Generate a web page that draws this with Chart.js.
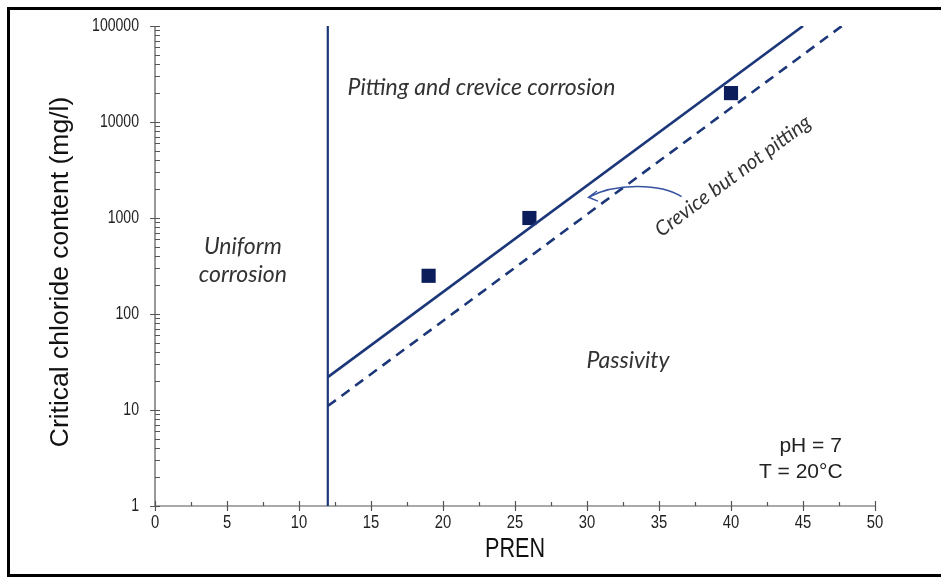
<!DOCTYPE html>
<html><head><meta charset="utf-8">
<script src="https://cdn.jsdelivr.net/npm/chart.js@4.4.1/dist/chart.umd.min.js"></script>
<style>html,body{margin:0;padding:0;background:#fff}</style>
</head><body>
<canvas id="c" width="941" height="577"></canvas>
<script>
// ---- data ----
const prenTicks = [0, 5, 10, 15, 20, 25, 30, 35, 40, 45, 50];
const chlorideTicks = [1, 10, 100, 1000, 10000, 100000];
const measuredPren = [19, 26, 40];
const measuredChloride = [250, 1000, 20000];
const pittingLinePren = [12, 45];
const pittingLineChloride = [22, 100000];
const creviceLinePren = [12, 47.7];
const creviceLineChloride = [11, 100000];
const uniformBoundaryPren = [12, 12];
const uniformBoundaryChloride = [1, 100000];
const xTitle = 'PREN';
const yTitle = 'Critical chloride content (mg/l)';
const regionPitting = 'Pitting and crevice corrosion';
const regionUniform = ['Uniform', 'corrosion'];
const regionPassivity = 'Passivity';
const regionCrevice = 'Crevice but not pitting';
const conditions = ['pH = 7', 'T = 20°C'];

const pts = (xs, ys) => xs.map((v, i) => ({x: v, y: ys[i]}));
const LINE = '#1c3779';
const MARK = '#0b1d5a';
const SANS = '"Liberation Sans", Arial, sans-serif';

const frame = {
  id: 'frame',
  beforeDraw(chart) {
    const ctx = chart.ctx;
    ctx.save();
    ctx.fillStyle = '#fff';
    ctx.fillRect(0, 0, chart.width, chart.height);
    ctx.strokeStyle = '#000';
    ctx.lineWidth = 3;
    ctx.strokeRect(8.5, 8.5, 945, 567);
    ctx.restore();
  }
};

// condensed text helper (Arial-Narrow look)
function narrowText(ctx, text, x, y, size, align, sx) {
  ctx.save();
  ctx.translate(x, y);
  ctx.scale(sx, 1);
  ctx.font = size + 'px ' + SANS;
  ctx.textAlign = align;
  ctx.textBaseline = 'middle';
  ctx.fillText(text, 0, 0);
  ctx.restore();
}

const axesTicks = {
  id: 'axesTicks',
  beforeDatasetsDraw(chart) {
    const {ctx, scales: {x, y}, chartArea: a} = chart;
    ctx.save();
    ctx.strokeStyle = '#555';
    ctx.lineWidth = 1.2;
    ctx.beginPath();
    ctx.moveTo(a.left, a.top); ctx.lineTo(a.left, a.bottom); ctx.lineTo(a.right, a.bottom);
    for (let v = 0; v <= 50; v += 2.5) {
      const px = Math.round(x.getPixelForValue(v)) + 0.5;
      const major = v % 5 === 0;
      ctx.moveTo(px, a.bottom - (major ? 5 : 4));
      ctx.lineTo(px, a.bottom + (major ? 5 : 0));
    }
    for (let d = 0; d <= 5; d++) {
      const base = Math.pow(10, d);
      const py = Math.round(y.getPixelForValue(base)) + 0.5;
      ctx.moveTo(a.left - 5, py); ctx.lineTo(a.left + 5, py);
      if (d < 5) {
        for (let m = 2; m <= 9; m++) {
          const q = Math.round(y.getPixelForValue(base * m)) + 0.5;
          ctx.moveTo(a.left, q); ctx.lineTo(a.left + 5, q);
        }
      }
    }
    ctx.stroke();
    // tick labels
    ctx.fillStyle = '#222';
    prenTicks.forEach(v => narrowText(ctx, String(v), x.getPixelForValue(v), a.bottom + 17, 18.5, 'center', 0.8));
    chlorideTicks.forEach(v => narrowText(ctx, String(v), a.left - 16, y.getPixelForValue(v), 18.5, 'right', 0.76));
    // axis titles
    ctx.fillStyle = '#111';
    narrowText(ctx, xTitle, (a.left + a.right) / 2, a.bottom + 44, 27, 'center', 0.8);
    ctx.save();
    ctx.translate(61, (a.top + a.bottom) / 2 + 6);
    ctx.rotate(-Math.PI / 2);
    ctx.font = '26.5px ' + SANS;
    ctx.textAlign = 'center';
    ctx.textBaseline = 'middle';
    ctx.fillText(yTitle, 0, 0);
    ctx.restore();
    ctx.restore();
  }
};

const annot = {
  id: 'annot',
  afterDatasetsDraw(chart) {
    const {ctx, scales: {x, y}} = chart;
    const px = v => x.getPixelForValue(v), py = v => y.getPixelForValue(v);
    ctx.save();
    ctx.fillStyle = '#333';
    ctx.textAlign = 'center';
    ctx.textBaseline = 'middle';
    ctx.font = 'italic 23px Lato';
    ctx.fillText(regionPitting, px(22.67), py(22600));
    ctx.fillText(regionUniform[0], px(6.1), py(499));
    ctx.fillText(regionUniform[1], px(6.1), py(255));
    ctx.fillText(regionPassivity, px(32.85), py(32.4));
    ctx.save();
    ctx.translate(px(40.14), py(2738));
    ctx.rotate(-36.6 * Math.PI / 180);
    ctx.font = 'italic 20.5px Lato';
    ctx.fillText(regionCrevice, 0, 0);
    ctx.restore();
    // arrow
    ctx.strokeStyle = '#3553a0';
    ctx.lineWidth = 1.4;
    ctx.beginPath();
    ctx.moveTo(px(36.57), py(1667));
    ctx.bezierCurveTo(px(35.07), py(2315), px(31.94), py(2315), px(30.10), py(1644));
    ctx.moveTo(px(30.69), py(1910));
    ctx.lineTo(px(30.10), py(1644));
    ctx.lineTo(px(30.76), py(1502));
    ctx.stroke();
    // conditions
    ctx.fillStyle = '#222';
    ctx.textAlign = 'right';
    ctx.font = '21px ' + SANS;
    ctx.fillText(conditions[0], px(47.7), py(4.22));
    ctx.fillText(conditions[1], px(47.75), py(2.26));
    ctx.restore();
  }
};

new Chart(document.getElementById('c'), {
  type: 'scatter',
  data: {
    datasets: [
      {data: pts(uniformBoundaryPren, uniformBoundaryChloride), showLine: true, borderColor: LINE, borderWidth: 2.2, pointRadius: 0},
      {data: pts(pittingLinePren, pittingLineChloride), showLine: true, borderColor: LINE, borderWidth: 2.6, pointRadius: 0},
      {data: pts(creviceLinePren, creviceLineChloride), showLine: true, borderColor: LINE, borderWidth: 2.6, borderDash: [10, 7], pointRadius: 0},
      {data: pts(measuredPren, measuredChloride), showLine: false, pointStyle: 'rect', pointRadius: 10, backgroundColor: MARK, borderColor: MARK, borderWidth: 0}
    ]
  },
  options: {
    responsive: false,
    animation: false,
    devicePixelRatio: 1,
    layout: {padding: {left: 10, top: 26, right: 66, bottom: 5}},
    plugins: {legend: {display: false}, tooltip: {enabled: false}},
    scales: {
      x: {
        type: 'linear', min: 0, max: 50,
        afterBuildTicks: s => { s.ticks = prenTicks.map(v => ({value: v})); },
        afterFit: s => { s.height = 66; },
        grid: {display: false, drawTicks: false},
        border: {display: false},
        ticks: {display: false},
        title: {display: false, text: xTitle}
      },
      y: {
        type: 'logarithmic', min: 1, max: 100000,
        afterBuildTicks: s => { s.ticks = chlorideTicks.map(v => ({value: v})); },
        afterFit: s => { s.width = 145; },
        grid: {display: false, drawTicks: false},
        border: {display: false},
        ticks: {display: false},
        title: {display: false, text: yTitle}
      }
    }
  },
  plugins: [frame, axesTicks, annot]
});
</script>
</body></html>
